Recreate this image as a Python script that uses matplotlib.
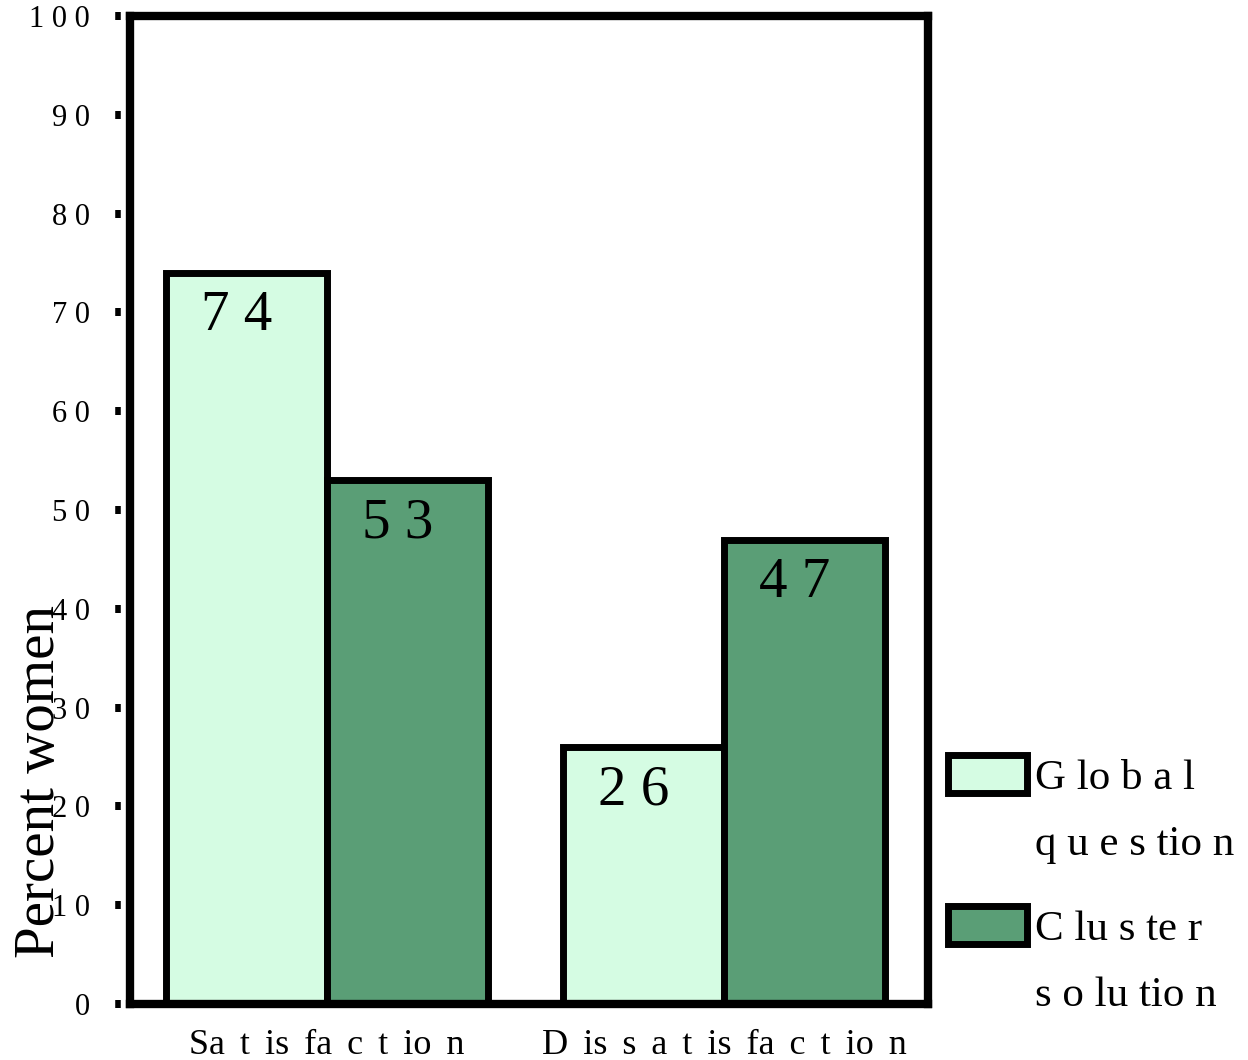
import numpy as np
import matplotlib
matplotlib.use("Agg")
import matplotlib.pyplot as plt
import matplotlib.transforms as mtransforms
from matplotlib.patches import Rectangle

# data
sp = " \u2006"  # wide letter gap like the original export
groups = sp.join(["Sa", "t", "is", "fa", "c", "t", "io", "n"]), \
         sp.join(["D", "is", "s", "a", "t", "is", "fa", "c", "t", "io", "n"])
series_names = ["G lo b a l", "C lu s te r"]
series_names2 = ["q u e s tio n", "s o lu tio n"]
global_vals = [74, 26]
cluster_vals = [53, 47]
value_text = {74: "7 4", 53: "5 3", 26: "2 6", 47: "4 7"}
yticks = [0, 10, 20, 30, 40, 50, 60, 70, 80, 90, 100]
ytick_labels = ["0", "1 0", "2 0", "3 0", "4 0", "5 0", "6 0", "7 0", "8 0", "9 0", "1 0 0"]

light = "#d5fce3"
dark = "#5a9e76"

plt.rcParams["font.family"] = ["Liberation Serif", "DejaVu Serif"]

fig = plt.figure(figsize=(12.48, 10.6), dpi=100)
ax = fig.add_axes([0.1042, 0.0528, 0.6394, 0.9321])

x = np.arange(len(groups))
w = 0.4055
b1 = ax.bar(x - w / 2, global_vals, w, color=light, edgecolor="black", linewidth=5)
b2 = ax.bar(x + w / 2, cluster_vals, w, color=dark, edgecolor="black", linewidth=5)

for bars in (b1, b2):
    for rect in bars:
        v = rect.get_height()
        ax.annotate(value_text[v], (rect.get_x() + rect.get_width() / 2, v),
                    xytext=(-10, -17), textcoords="offset pixels",
                    ha="center", va="top", fontsize=41)

ax.set_xlim(-0.496, 1.514)
ax.set_ylim(0, 100)
for s in ax.spines.values():
    s.set_linewidth(6)

ax.set_xticks(x)
ax.set_xticklabels(groups, fontsize=26)
ax.tick_params(axis="x", direction="out", length=2, width=4, pad=16)

# y ticks: small marks detached from the spine
ax.set_yticks(yticks)
ax.set_yticklabels(ytick_labels, fontsize=22)
ax.tick_params(axis="y", length=0, pad=29)
trans = mtransforms.blended_transform_factory(ax.transAxes, ax.transData)
ax.plot(np.full(len(yticks), -0.0145), yticks, transform=trans, ls="none",
        marker="|", markersize=6, markeredgewidth=4, color="black", clip_on=False)

fig.text(40 / 1248, 1 - 782 / 1060, "Percent women", rotation=90,
         ha="center", va="center", fontsize=41)

# legend: one block per series, swatch next to the first line of its label
blank = Rectangle((0, 0), 1, 1, fill=False, edgecolor="none")
for bars, name, name2, top in [(b1, series_names[0], series_names2[0], 755),
                               (b2, series_names[1], series_names2[1], 906)]:
    leg = fig.legend([bars[0], blank], [name, name2], loc="upper left",
                     bbox_to_anchor=(948 / 1248, 1 - top / 1060),
                     frameon=False, fontsize=31, handlelength=1.84, handleheight=0.97,
                     handletextpad=0.18, labelspacing=0.55, borderpad=0, borderaxespad=0)
    leg.legend_handles[0].set_linewidth(5)

fig.savefig("out.png", dpi=100)
